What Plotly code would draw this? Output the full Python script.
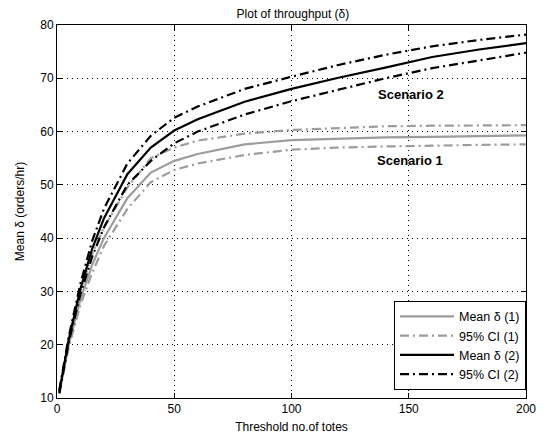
import plotly.graph_objects as go

thresholds = [1, 5, 10, 15, 20, 30, 40, 50, 60, 80, 100, 120, 140, 160, 180, 200]

mean_1 = [11.0, 20.0, 28.5, 35.0, 40.0, 47.5, 52.3, 54.5, 55.8, 57.6, 58.4, 58.7, 58.9, 59.0, 59.2, 59.3]
ci_up_1 = [11.5, 21.0, 30.0, 37.0, 42.0, 49.5, 55.0, 57.0, 58.3, 59.6, 60.3, 60.6, 61.0, 61.1, 61.2, 61.2]
ci_lo_1 = [10.8, 19.5, 27.5, 33.5, 38.5, 45.5, 50.5, 52.8, 54.0, 55.6, 56.6, 57.0, 57.2, 57.4, 57.5, 57.6]

mean_2 = [11.2, 21.0, 30.5, 38.0, 43.7, 52.0, 57.0, 60.2, 62.3, 65.6, 68.0, 70.1, 72.0, 74.0, 75.4, 76.6]
ci_up_2 = [11.5, 21.5, 31.5, 39.5, 45.5, 54.0, 59.2, 62.6, 64.7, 68.0, 70.3, 72.5, 74.4, 76.0, 77.2, 78.2]
ci_lo_2 = [10.9, 20.5, 29.5, 36.5, 42.0, 50.0, 54.5, 57.8, 60.0, 63.2, 65.7, 67.9, 70.0, 71.9, 73.4, 74.8]

labels = ["Mean \u03b4 (1)", "95% CI (1)", "Mean \u03b4 (2)", "95% CI (2)"]
annots = [("Scenario 2", 151, 67.0), ("Scenario 1", 150.5, 54.6)]

GRAY = "#9c9c9c"
BLACK = "#000000"
DASHDOT = "9px,4px,2px,4px"
FONT = "Liberation Sans, Arial, sans-serif"

fig = go.Figure()

fig.add_trace(go.Scatter(x=thresholds, y=mean_1, mode="lines", name=labels[0],
                         line=dict(color=GRAY, width=2.2), legendgroup="m1"))
fig.add_trace(go.Scatter(x=thresholds, y=ci_up_1, mode="lines", name=labels[1],
                         line=dict(color=GRAY, width=2.2, dash=DASHDOT), legendgroup="c1"))
fig.add_trace(go.Scatter(x=thresholds, y=ci_lo_1, mode="lines", name=labels[1],
                         line=dict(color=GRAY, width=2.2, dash=DASHDOT), legendgroup="c1",
                         showlegend=False))
fig.add_trace(go.Scatter(x=thresholds, y=mean_2, mode="lines", name=labels[2],
                         line=dict(color=BLACK, width=2.2), legendgroup="m2"))
fig.add_trace(go.Scatter(x=thresholds, y=ci_up_2, mode="lines", name=labels[3],
                         line=dict(color=BLACK, width=2.2, dash=DASHDOT), legendgroup="c2"))
fig.add_trace(go.Scatter(x=thresholds, y=ci_lo_2, mode="lines", name=labels[3],
                         line=dict(color=BLACK, width=2.2, dash=DASHDOT), legendgroup="c2",
                         showlegend=False))

for text, ax, ay in annots:
    fig.add_annotation(x=ax, y=ay, text=f"<b>{text}</b>", showarrow=False,
                       font=dict(size=13, color="black", family=FONT))

axis_common = dict(
    showline=True, linecolor="black", linewidth=1, mirror="ticks",
    ticks="inside", ticklen=5, tickcolor="black",
    showgrid=True, gridcolor="#000000", gridwidth=1, griddash="1px,4px",
    zeroline=False, automargin=False,
    tickfont=dict(size=12, color="black", family=FONT),
)

fig.update_xaxes(range=[0, 200], dtick=50, tick0=0,
                 title=dict(text="Threshold no.of totes", standoff=7,
                            font=dict(size=12, color="black", family=FONT)),
                 **axis_common)
fig.update_yaxes(range=[10, 80], dtick=10, tick0=10,
                 title=dict(text="Mean \u03b4 (orders/hr)", standoff=13,
                            font=dict(size=12, color="black", family=FONT)),
                 **axis_common)

# page body adds an 8px offset, so margins are shifted to compensate
fig.update_layout(
    width=549, height=441,
    margin=dict(l=49, r=31, t=17, b=51, autoexpand=False),
    paper_bgcolor="white", plot_bgcolor="white",
    title=dict(text="Plot of throughput (\u03b4)", x=0.519, xanchor="center",
               y=0.997, yanchor="top", automargin=False,
               font=dict(size=12, color="black", family=FONT)),
    legend=dict(x=1.0, xanchor="right", y=0.022, yanchor="bottom",
                bgcolor="white", bordercolor="black", borderwidth=1,
                itemwidth=54, tracegroupgap=0,
                font=dict(size=12.5, color="black", family=FONT)),
    showlegend=True,
)

fig.write_html("out.html")
